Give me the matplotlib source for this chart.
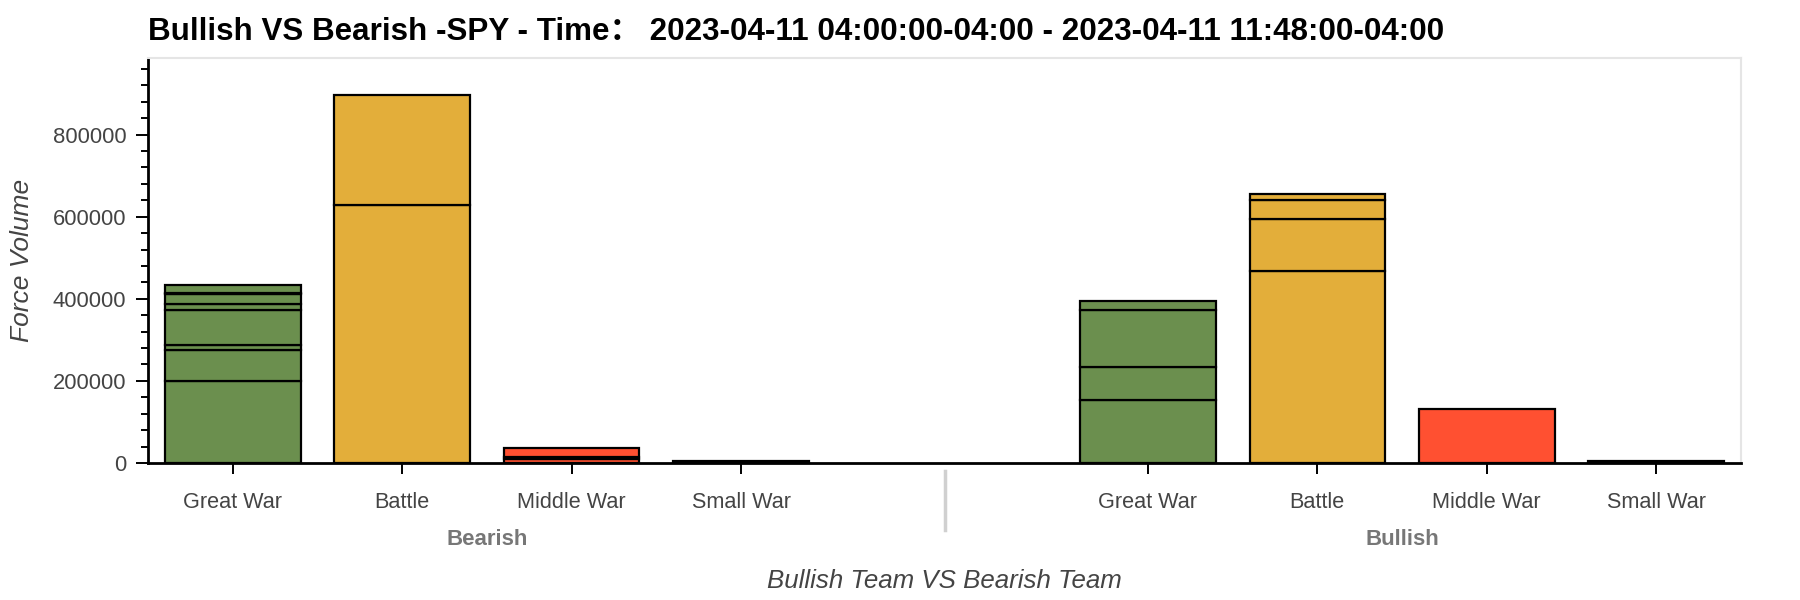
import numpy as np
import matplotlib
matplotlib.use("Agg")
import matplotlib.pyplot as plt
from matplotlib.ticker import MultipleLocator, FixedLocator
from matplotlib.transforms import blended_transform_factory

plt.rcParams['font.family'] = ['Liberation Sans', 'Noto Sans CJK SC', 'DejaVu Sans']

# data: stacked pieces, bottom to top
groups = ["Bearish", "Bullish"]
categories = ["Great War", "Battle", "Middle War", "Small War"]
bearish_great_war = [200000, 75000, 13000, 85000, 15000, 23000, 4000, 19000]
bearish_battle = [628500, 268300]
bearish_middle_war = [9800, 5600, 20500]
bearish_small_war = [6000]
bullish_great_war = [153700, 79700, 138100, 23500]
bullish_battle = [468300, 126100, 45400, 15600]
bullish_middle_war = [131700]
bullish_small_war = [6000]

stacks = {
    "Bearish": [bearish_great_war, bearish_battle, bearish_middle_war, bearish_small_war],
    "Bullish": [bullish_great_war, bullish_battle, bullish_middle_war, bullish_small_war],
}
colors = ["#6b8f4e", "#e3ae3a", "#ff5031", "#2c5d73"]

group_padding = 1.4
fig = plt.figure(figsize=(18, 6), dpi=100)
ax = fig.add_axes([148/1800, 1 - 463/600, 1593/1800, 405/600])

# x positions like a nested factor range
positions = {}
x = 0.5
for i, g in enumerate(groups):
    for c in categories:
        positions[(g, c)] = x
        x += 1
    if i < len(groups) - 1:
        x += group_padding

for g in groups:
    for c, pieces, col in zip(categories, stacks[g], colors):
        bottom = 0
        for v in pieces:
            ax.bar(positions[(g, c)], v, width=0.8, bottom=bottom, color=col,
                   edgecolor="black", linewidth=1.6)
            bottom += v

top = max(sum(p) for g in groups for p in stacks[g])
ax.set_ylim(0, top * 1.1)
ax.set_xlim(0, len(groups) * len(categories) + group_padding)

# y axis
ax.yaxis.set_major_locator(FixedLocator([0, 200000, 400000, 600000, 800000]))
ax.yaxis.set_minor_locator(MultipleLocator(40000))
ax.set_yticklabels(["0", "200000", "400000", "600000", "800000"])
ax.tick_params(axis="y", which="major", length=8.5, width=1.4, pad=7,
               labelsize=15.8, labelcolor="#444444")
ax.tick_params(axis="y", which="minor", length=5, width=1.4)

# x axis: categories
ticks = [positions[(g, c)] for g in groups for c in categories]
ax.set_xticks(ticks)
ax.set_xticklabels(categories * len(groups))
ax.tick_params(axis="x", which="major", length=8, width=1.4, pad=13,
               labelsize=15.6, labelcolor="#444444")
ax.tick_params(axis="x", which="minor", length=0)

for side in ["top", "right"]:
    ax.spines[side].set_color("#e5e5e5")
    ax.spines[side].set_linewidth(1.5)
for side in ["left", "bottom"]:
    ax.spines[side].set_linewidth(2)

trans = blended_transform_factory(ax.transData, ax.transAxes)
for g in groups:
    xs = [positions[(g, c)] for c in categories]
    ax.text(np.mean(xs), -0.19, g, transform=trans, ha="center", va="center",
            fontsize=16, fontweight="bold", color="#777777")
sep = (positions[(groups[0], categories[-1])] + positions[(groups[1], categories[0])]) / 2
ax.plot([sep, sep], [-0.02, -0.165], transform=trans, color="#d0d0d0",
        linewidth=2.5, clip_on=False)

ax.set_ylabel("Force Volume", fontsize=19, fontstyle="italic", color="#444444")
ax.yaxis.set_label_coords(-0.0716, 0.5)
ax.set_xlabel("Bullish Team VS Bearish Team", fontsize=18.6, fontstyle="italic",
              color="#444444")
ax.xaxis.set_label_coords(0.5, -0.262)

fig.text(148/1800, 1 - 32/600,
         "Bullish VS Bearish -SPY - Time\uff1a 2023-04-11 04:00:00-04:00 - 2023-04-11 11:48:00-04:00",
         fontsize=22.6, fontweight="bold", ha="left", va="center", color="black")

fig.savefig("out.png", dpi=100)
